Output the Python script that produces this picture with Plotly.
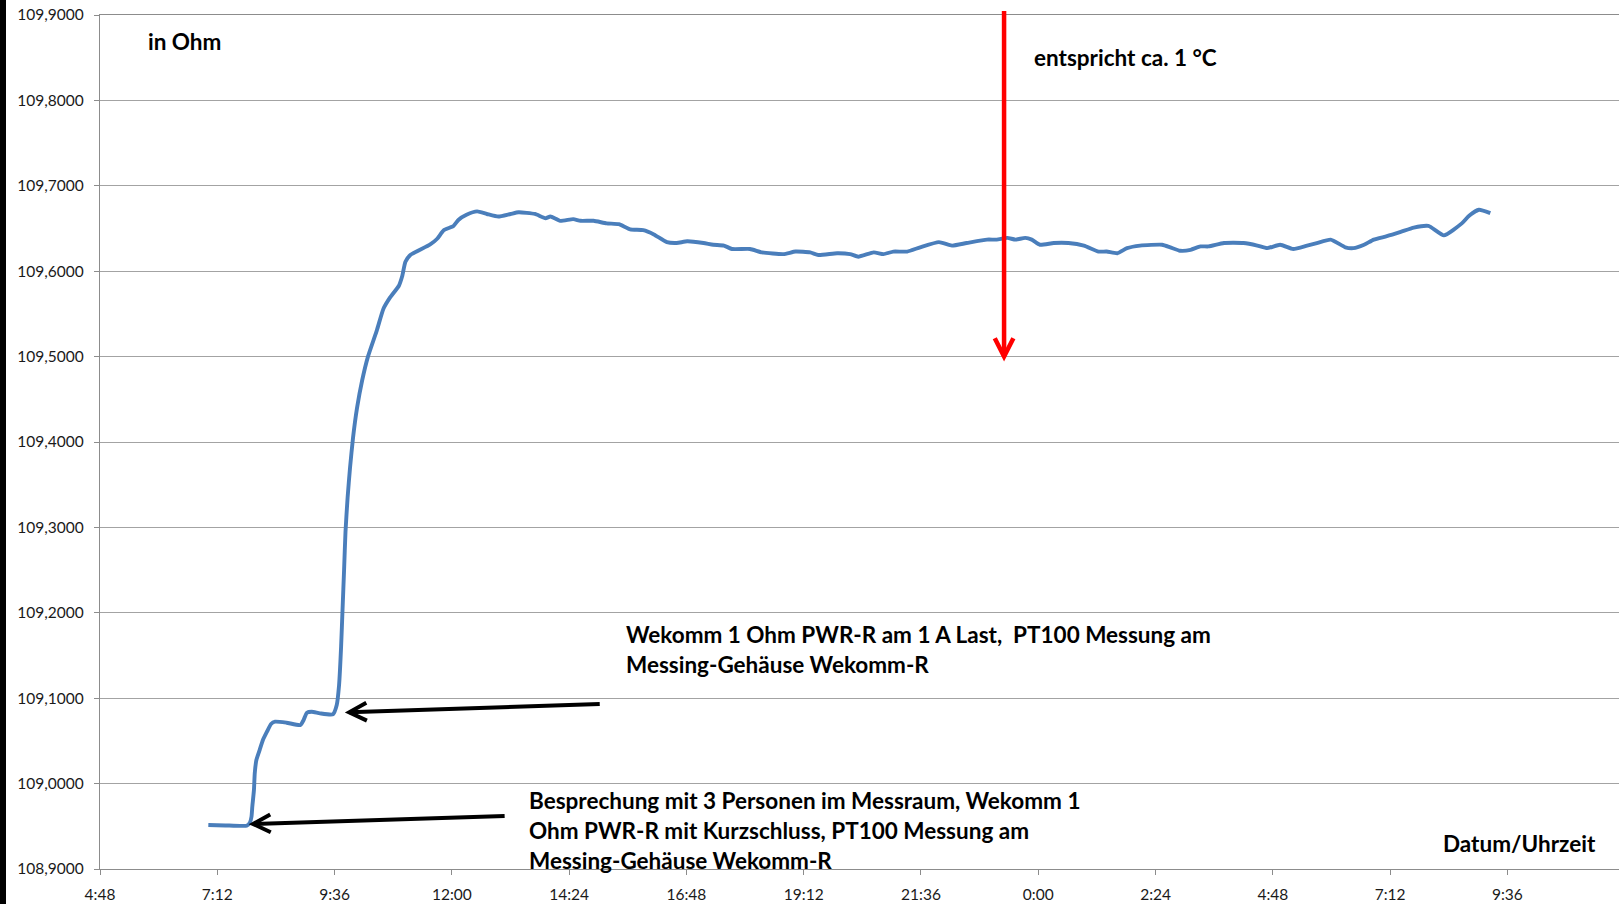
import math
import plotly.graph_objects as go

# Messwerte Widerstand (Ohm) über Datum/Uhrzeit
zeit = [
    "2013-03-11 07:01", "2013-03-11 07:22", "2013-03-11 07:40", "2013-03-11 07:48",
    "2013-03-11 07:52", "2013-03-11 07:54", "2013-03-11 07:55", "2013-03-11 07:57",
    "2013-03-11 07:58", "2013-03-11 08:00", "2013-03-11 08:04", "2013-03-11 08:08",
    "2013-03-11 08:13", "2013-03-11 08:18", "2013-03-11 08:23", "2013-03-11 08:37",
    "2013-03-11 08:54", "2013-03-11 08:58", "2013-03-11 09:02", "2013-03-11 09:08",
    "2013-03-11 09:18", "2013-03-11 09:34", "2013-03-11 09:38:40", "2013-03-11 09:41:30",
    "2013-03-11 09:44", "2013-03-11 09:45:50", "2013-03-11 09:47:40", "2013-03-11 09:49:25",
    "2013-03-11 09:52", "2013-03-11 09:55", "2013-03-11 09:58:40", "2013-03-11 10:03:35",
    "2013-03-11 10:09:50", "2013-03-11 10:17", "2013-03-11 10:28", "2013-03-11 10:36",
    "2013-03-11 10:44", "2013-03-11 10:55", "2013-03-11 10:59", "2013-03-11 11:03",
    "2013-03-11 11:09", "2013-03-11 11:33", "2013-03-11 11:42", "2013-03-11 11:50",
    "2013-03-11 12:02", "2013-03-11 12:08", "2013-03-11 12:18", "2013-03-11 12:31",
    "2013-03-11 12:43", "2013-03-11 12:57", "2013-03-11 13:12", "2013-03-11 13:22",
    "2013-03-11 13:42", "2013-03-11 13:55", "2013-03-11 14:01", "2013-03-11 14:13",
    "2013-03-11 14:29", "2013-03-11 14:38", "2013-03-11 14:54", "2013-03-11 15:10",
    "2013-03-11 15:25", "2013-03-11 15:39", "2013-03-11 15:55", "2013-03-11 16:08",
    "2013-03-11 16:24", "2013-03-11 16:36", "2013-03-11 16:49", "2013-03-11 17:09",
    "2013-03-11 17:21", "2013-03-11 17:34", "2013-03-11 17:44", "2013-03-11 18:06",
    "2013-03-11 18:21", "2013-03-11 18:47", "2013-03-11 19:02", "2013-03-11 19:20",
    "2013-03-11 19:30", "2013-03-11 19:53", "2013-03-11 20:09", "2013-03-11 20:19",
    "2013-03-11 20:38", "2013-03-11 20:50", "2013-03-11 21:02", "2013-03-11 21:19",
    "2013-03-11 21:35", "2013-03-11 21:58", "2013-03-11 22:14", "2013-03-11 22:32",
    "2013-03-11 22:57", "2013-03-11 23:09", "2013-03-11 23:22", "2013-03-11 23:32",
    "2013-03-11 23:44", "2013-03-11 23:52",
    "2013-03-12 00:02", "2013-03-12 00:19", "2013-03-12 00:37", "2013-03-12 00:56",
    "2013-03-12 01:14", "2013-03-12 01:24", "2013-03-12 01:37", "2013-03-12 01:49",
    "2013-03-12 02:05", "2013-03-12 02:32", "2013-03-12 02:42", "2013-03-12 02:54",
    "2013-03-12 03:07", "2013-03-12 03:19", "2013-03-12 03:29", "2013-03-12 03:48",
    "2013-03-12 04:12", "2013-03-12 04:29", "2013-03-12 04:41", "2013-03-12 04:57",
    "2013-03-12 05:13", "2013-03-12 05:30", "2013-03-12 05:42", "2013-03-12 05:59",
    "2013-03-12 06:17", "2013-03-12 06:27", "2013-03-12 06:40", "2013-03-12 06:52",
    "2013-03-12 07:08", "2013-03-12 07:25", "2013-03-12 07:41", "2013-03-12 07:59",
    "2013-03-12 08:18", "2013-03-12 08:40", "2013-03-12 08:49", "2013-03-12 09:01",
    "2013-03-12 09:15",
]
ohm = [
    108.9515, 108.9510, 108.9505, 108.9507,
    108.9542, 108.9612, 108.9730, 108.9925,
    109.0120, 109.0276, 109.0393, 109.0510,
    109.0608, 109.0698, 109.0725, 109.0713,
    109.0686, 109.0745, 109.0830, 109.0841,
    109.0823, 109.0812, 109.0920, 109.1150,
    109.1600, 109.2050, 109.2500, 109.2950,
    109.3350, 109.3700, 109.4050, 109.4400,
    109.4720, 109.5000, 109.5310, 109.5560,
    109.5690, 109.5830, 109.5940, 109.6110,
    109.6190, 109.6310, 109.6380, 109.6480,
    109.6530, 109.6600, 109.6660, 109.6700,
    109.6670, 109.6640, 109.6670, 109.6690,
    109.6670, 109.6620, 109.6640, 109.6590,
    109.6610, 109.6590, 109.6590, 109.6560,
    109.6550, 109.6490, 109.6480, 109.6430,
    109.6340, 109.6330, 109.6350, 109.6330,
    109.6310, 109.6300, 109.6260, 109.6260,
    109.6220, 109.6200, 109.6230, 109.6220,
    109.6190, 109.6210, 109.6200, 109.6170,
    109.6220, 109.6200, 109.6230, 109.6230,
    109.6280, 109.6340, 109.6300, 109.6330,
    109.6370, 109.6370, 109.6390, 109.6370,
    109.6390, 109.6370,
    109.6310, 109.6330, 109.6330, 109.6300,
    109.6230, 109.6230, 109.6210, 109.6270,
    109.6300, 109.6310, 109.6280, 109.6240,
    109.6250, 109.6290, 109.6290, 109.6330,
    109.6330, 109.6300, 109.6270, 109.6310,
    109.6260, 109.6300, 109.6330, 109.6370,
    109.6280, 109.6270, 109.6310, 109.6370,
    109.6410, 109.6460, 109.6510, 109.6530,
    109.6420, 109.6560, 109.6650, 109.6720,
    109.6680,
]

# Achsen
x_start = "2013-03-11 04:48"
x_end = "2013-03-12 11:53"
y_min, y_max = 108.9, 109.9
tick_step_ms = 2.4 * 3600 * 1000

# Markierungen: Pfeilspitzen (Zeit, Ohm)
pfeil_last = ("2013-03-11 09:54", 109.0835)
pfeil_besprechung = ("2013-03-11 07:56", 108.9527)
pfeil_grad = ("2013-03-11 23:18", 109.5000)

W, H = 1619, 904
M_L, M_R, M_T, M_B = 100, 0, 15, 35
PW, PH = W - M_L - M_R, H - M_T - M_B

FONT = "Lato"
BLUE = "#4a7ebb"
GRID = "#a3a3a3"


def px_x(px):
    return (px - M_L) / PW


def px_y(py):
    return 1 - (py - M_T) / PH


fig = go.Figure()
fig.add_trace(go.Scatter(
    x=zeit, y=ohm, mode="lines",
    line=dict(color=BLUE, width=3.9, shape="spline", smoothing=0.5),
    hoverinfo="skip", showlegend=False,
))

annotations = []
shapes = []


def arrow(tip, dx, dy, color, width, arm=19.5, angle=27):
    """Pfeil mit offener Spitze; dx/dy = Versatz des Pfeilendes in Pixeln (y nach oben)."""
    tx, ty = tip
    annotations.append(dict(
        x=tx, y=ty, xref="x", yref="y", text="", showarrow=True,
        ax=dx, ay=-dy, axref="pixel", ayref="pixel", arrowhead=0,
        arrowwidth=width, arrowcolor=color, standoff=0, startstandoff=0,
    ))
    n = math.hypot(dx, dy)
    ux, uy = dx / n, dy / n
    pts = []
    for s in (1, -1):
        a = math.radians(angle * s)
        rx = ux * math.cos(a) - uy * math.sin(a)
        ry = ux * math.sin(a) + uy * math.cos(a)
        pts.append((rx * arm, ry * arm))
    path = "M {:.2f} {:.2f} L 0 0 L {:.2f} {:.2f}".format(
        pts[0][0], pts[0][1], pts[1][0], pts[1][1])
    shapes.append(dict(
        type="path", xref="x", yref="y", xsizemode="pixel", ysizemode="pixel",
        xanchor=tx, yanchor=ty, path=path,
        line=dict(color=color, width=width), layer="above",
    ))


arrow(pfeil_last, 252, 8.3, "black", 4)
arrow(pfeil_besprechung, 253, 8, "black", 4)
arrow(pfeil_grad, 0, 347, "#ff0000", 4.5, arm=20.5, angle=27)


def label(text, left_px, center_px, size=22.5):
    annotations.append(dict(
        text=text, xref="paper", yref="paper",
        x=px_x(left_px), y=px_y(center_px), xanchor="left", yanchor="middle",
        showarrow=False, align="left",
        font=dict(family=FONT, size=size, color="black", weight="bold"),
    ))


label("in Ohm", 146, 41)
label("entspricht ca. 1 °C", 1032, 57)
label("Wekomm 1 Ohm PWR-R am 1 A Last,  PT100 Messung am", 624, 634)
label("Messing-Gehäuse Wekomm-R", 624, 664)
label("Besprechung mit 3 Personen im Messraum, Wekomm 1", 527, 800)
label("Ohm PWR-R mit Kurzschluss, PT100 Messung am", 527, 830)
label("Messing-Gehäuse Wekomm-R", 527, 860)
label("Datum/Uhrzeit", 1441, 843)

# schwarzer Rand links
shapes.append(dict(
    type="rect", xref="paper", yref="paper",
    x0=px_x(0), x1=px_x(6), y0=px_y(H), y1=px_y(0),
    fillcolor="black", line=dict(width=0), layer="above",
))

fig.update_layout(
    width=W, height=H,
    margin=dict(l=M_L, r=M_R, t=M_T, b=M_B, pad=0),
    paper_bgcolor="white", plot_bgcolor="white",
    separators=",.",
    showlegend=False,
    annotations=annotations,
    shapes=shapes,
    xaxis=dict(
        type="date", range=[x_start, x_end],
        tick0=x_start, dtick=tick_step_ms, tickformat="%-H:%M",
        showgrid=False, zeroline=False,
        showline=True, linecolor="#8c8c8c", linewidth=1.3, mirror=True,
        ticks="outside", ticklen=5, tickwidth=1.2, tickcolor="#8c8c8c",
        ticklabelstandoff=6,
        tickfont=dict(family=FONT, size=15.5, color="#1a1a1a"),
    ),
    yaxis=dict(
        range=[y_min, y_max], tick0=y_min, dtick=0.1, tickformat=".4f",
        showgrid=True, gridcolor=GRID, gridwidth=1.2, zeroline=False,
        showline=True, linecolor="#8c8c8c", linewidth=1.3,
        ticks="outside", ticklen=5, tickwidth=1.2, tickcolor="#8c8c8c",
        ticklabelstandoff=7,
        tickfont=dict(family=FONT, size=15.5, color="#1a1a1a"),
    ),
)

fig.write_html("out.html")
